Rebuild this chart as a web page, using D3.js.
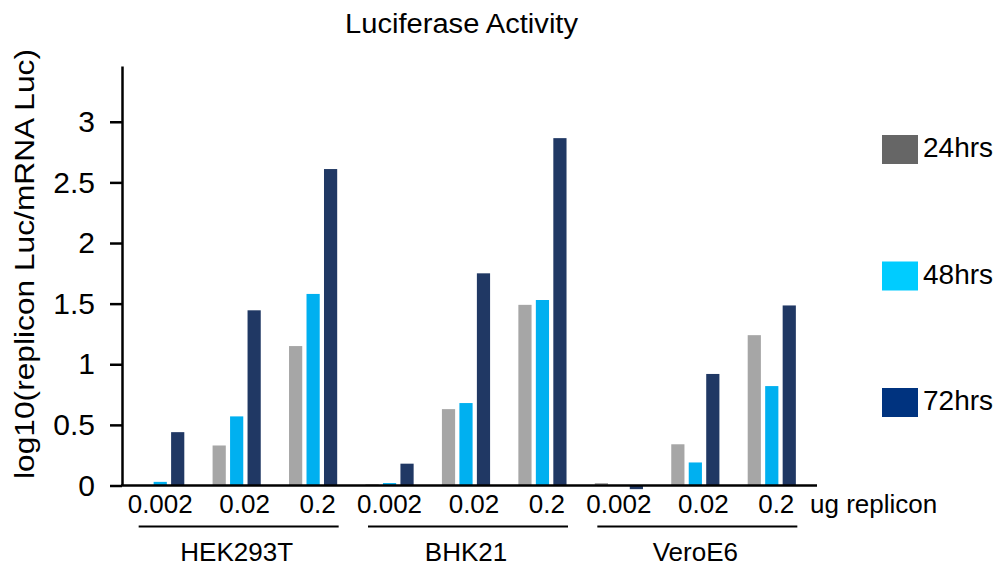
<!DOCTYPE html>
<html>
<head>
<meta charset="utf-8">
<script src="https://cdn.jsdelivr.net/npm/d3@7/dist/d3.min.js"></script>
<style>
  html, body { margin: 0; padding: 0; background: #ffffff; }
  svg { display: block; font-family: "Liberation Sans", Arial, Helvetica, sans-serif; }
</style>
</head>
<body>
<svg id="chart" width="999" height="568"></svg>
<script>
// Luciferase activity per cell line and replicon dose, at three time points
const cellLines = ["HEK293T", "BHK21", "VeroE6"];
const doses = ["0.002", "0.02", "0.2"];
const seriesNames = ["24hrs", "48hrs", "72hrs"];

// values in cell-line order, doses inside each cell line
const values24 = [0, 0.33, 1.15, 0.01, 0.63, 1.49, 0.02, 0.34, 1.24];
const values48 = [0.03, 0.57, 1.58, 0.02, 0.68, 1.53, 0, 0.19, 0.82];
const values72 = [0.44, 1.445, 2.61, 0.18, 1.75, 2.865, -0.03, 0.92, 1.485];

const yTicks = [0, 0.5, 1, 1.5, 2, 2.5, 3];

const barColors = ["#a6a6a6", "#00b0f0", "#203864"];
const legendColors = ["#666666", "#00ccff", "#00337f"];

const svg = d3.select("#chart");

const categories = [];
cellLines.forEach(c => doses.forEach(d => categories.push(c + "|" + d)));
const seriesValues = [values24, values48, values72];

const rows = categories.map((key, i) => ({
  key,
  cell: key.split("|")[0],
  dose: key.split("|")[1],
  vals: seriesValues.map(s => s[i])
}));

const x = d3.scaleBand()
  .domain(categories)
  .range([122, 810])
  .paddingInner(0.37)
  .paddingOuter(0.185);

const xs = d3.scaleBand()
  .domain(seriesNames)
  .range([0, x.bandwidth()])
  .paddingInner(0.245)
  .paddingOuter(0);

const y = d3.scaleLinear().domain([0, 3.46]).range([485.5, 66]);

// bars
const groups = svg.append("g").selectAll("g")
  .data(rows).join("g")
  .attr("transform", d => `translate(${x(d.key)},0)`);

groups.selectAll("rect")
  .data(d => d.vals.map((v, j) => ({ name: seriesNames[j], v, j })))
  .join("rect")
  .attr("x", d => xs(d.name))
  .attr("width", xs.bandwidth())
  .attr("y", d => y(Math.max(0, d.v)))
  .attr("height", d => Math.abs(y(d.v) - y(0)))
  .attr("fill", d => barColors[d.j]);

// y axis
const yAxis = svg.append("g")
  .attr("transform", "translate(122,0)")
  .call(d3.axisLeft(y).tickValues(yTicks).tickSize(12).tickSizeOuter(0).tickPadding(15)
    .tickFormat(d3.format("")));
yAxis.select(".domain").attr("stroke", "#000").attr("stroke-width", 2.5);
yAxis.selectAll(".tick line").attr("stroke", "#000").attr("stroke-width", 2.5);
yAxis.selectAll(".tick text")
  .attr("fill", "#000")
  .style("font-size", "30px")
  .style("font-family", "'Liberation Sans', Arial, sans-serif");

// x axis baseline
svg.append("line")
  .attr("x1", 121).attr("x2", x.range()[1] + 7)
  .attr("y1", y(0)).attr("y2", y(0))
  .attr("stroke", "#000").attr("stroke-width", 2.5);

// dose labels
const doseShift = { "0.002": 0, "0.02": 8, "0.2": 4.5 };
svg.append("g").selectAll("text")
  .data(rows).join("text")
  .attr("x", d => x(d.key) + x.bandwidth() / 2 + doseShift[d.dose])
  .attr("y", 513)
  .attr("text-anchor", "middle")
  .style("font-size", "26px")
  .attr("fill", "#000")
  .text(d => d.dose);

svg.append("text")
  .attr("x", 810).attr("y", 513)
  .style("font-size", "26px")
  .attr("fill", "#000")
  .text("ug replicon");

// cell line brackets and names
const cellCenter = c => {
  const ks = categories.filter(k => k.startsWith(c + "|"));
  return (x(ks[0]) + x(ks[ks.length - 1]) + x.bandwidth()) / 2;
};
const cellG = svg.append("g").selectAll("g").data(cellLines).join("g");
cellG.append("line")
  .attr("x1", c => cellCenter(c) - 98).attr("x2", c => cellCenter(c) + 102)
  .attr("y1", 526.5).attr("y2", 526.5)
  .attr("stroke", "#000").attr("stroke-width", 2);
cellG.append("text")
  .attr("x", c => cellCenter(c))
  .attr("y", 560.5)
  .attr("text-anchor", "middle")
  .style("font-size", "26px")
  .attr("fill", "#000")
  .text(c => c);

// title
svg.append("text")
  .attr("x", 461.5).attr("y", 32.5)
  .attr("text-anchor", "middle")
  .style("font-size", "27px")
  .attr("textLength", 233)
  .attr("lengthAdjust", "spacingAndGlyphs")
  .attr("fill", "#000")
  .text("Luciferase Activity");

// y axis title
svg.append("text")
  .attr("transform", "translate(34,264) rotate(-90)")
  .attr("text-anchor", "middle")
  .style("font-size", "28px")
  .attr("textLength", 430)
  .attr("lengthAdjust", "spacingAndGlyphs")
  .attr("fill", "#000")
  .text("log10(replicon Luc/mRNA Luc)");

// legend
const legendY = d3.scalePoint().domain(seriesNames).range([149.5, 402.5]);
const leg = svg.append("g").selectAll("g").data(seriesNames).join("g")
  .attr("transform", d => `translate(882,${legendY(d)})`);
leg.append("rect")
  .attr("x", 0).attr("y", -14.5)
  .attr("width", 36).attr("height", 29)
  .attr("fill", (d, i) => legendColors[i]);
leg.append("text")
  .attr("x", 41).attr("y", 7.5)
  .style("font-size", "28px")
  .attr("fill", "#000")
  .text(d => d);
</script>
</body>
</html>
